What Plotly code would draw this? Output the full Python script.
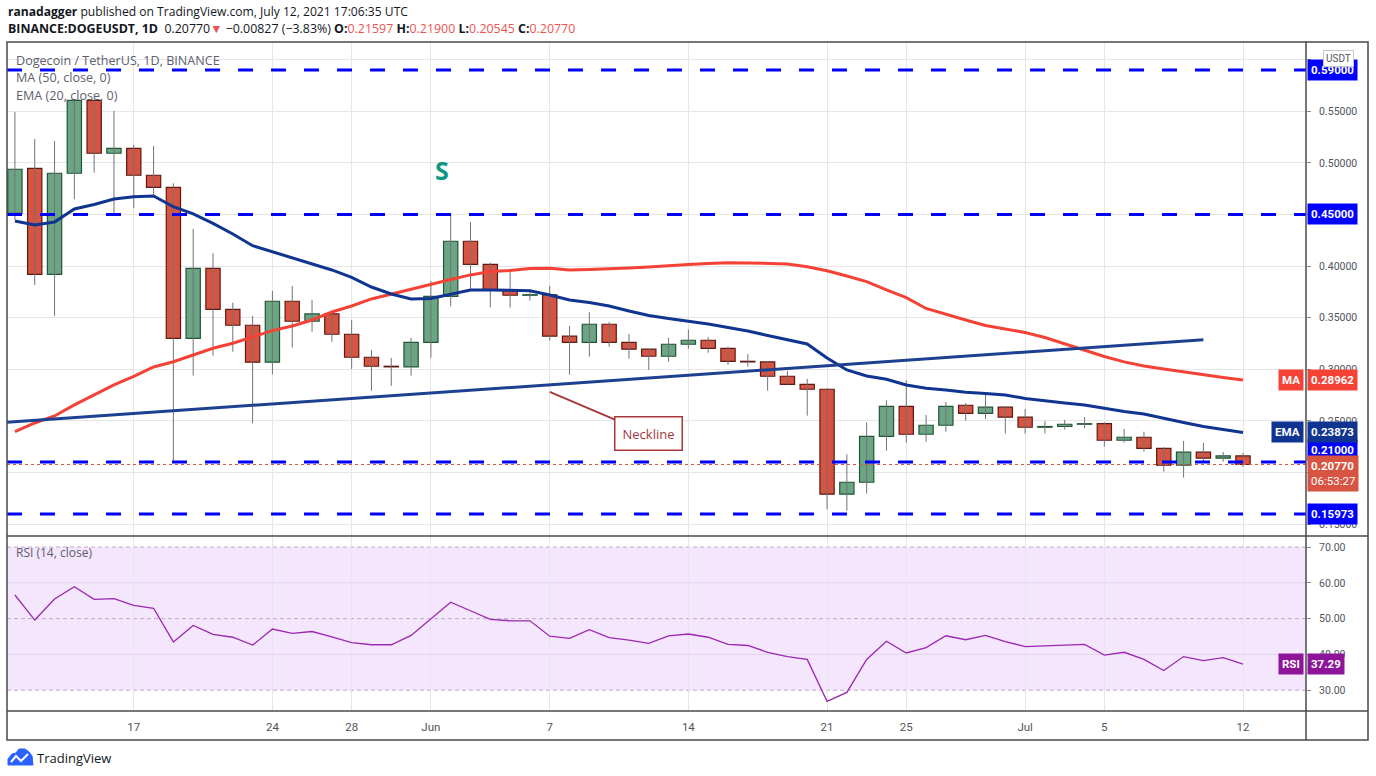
import pandas as pd
import plotly.graph_objects as go
from plotly.subplots import make_subplots


# ── Data ──────────────────────────────────────────────────────────────────────
dates = pd.date_range("2021-05-11", "2021-07-12", freq="D")

opens = [0.4511, 0.4947, 0.3920, 0.4899, 0.5606, 0.5093, 0.5141, 0.4880, 0.4763, 0.3300,
         0.3978, 0.3581, 0.3426, 0.3068, 0.3659, 0.3465, 0.3536, 0.3339, 0.3116, 0.3029,
         0.3023, 0.3261, 0.3707, 0.4240, 0.4017, 0.3768, 0.3717, 0.3722, 0.3320, 0.3261,
         0.3436, 0.3261, 0.3194, 0.3126, 0.3242, 0.3281, 0.3203, 0.3077, 0.3071, 0.2932,
         0.2854, 0.2806, 0.1789, 0.1905, 0.2350, 0.2641, 0.2370, 0.2457, 0.2651, 0.2573,
         0.2632, 0.2535, 0.2438, 0.2445, 0.2467, 0.2472, 0.2312, 0.2341, 0.2233, 0.2070,
         0.2196, 0.2138, 0.21597]
highs = [0.5493, 0.5231, 0.5212, 0.5616, 0.5616, 0.5503, 0.5173, 0.5164, 0.4802, 0.4359,
         0.4124, 0.3645, 0.3516, 0.3759, 0.3807, 0.3671, 0.3545, 0.3478, 0.3187, 0.3109,
         0.3303, 0.3855, 0.4495, 0.4427, 0.4033, 0.3959, 0.3775, 0.3807, 0.3419, 0.3552,
         0.3458, 0.3342, 0.3200, 0.3306, 0.3384, 0.3313, 0.3216, 0.3148, 0.3080, 0.2983,
         0.2906, 0.2816, 0.2176, 0.2486, 0.2699, 0.2893, 0.2557, 0.2683, 0.2673, 0.2767,
         0.2644, 0.2615, 0.2499, 0.2509, 0.2538, 0.2486, 0.2421, 0.2395, 0.2244, 0.2305,
         0.2286, 0.2198, 0.21900]
lows = [0.4447, 0.3817, 0.3519, 0.4647, 0.4905, 0.4495, 0.4560, 0.4689, 0.2104, 0.2938,
        0.3132, 0.3170, 0.2477, 0.2951, 0.3209, 0.3364, 0.3267, 0.3003, 0.2792, 0.2840,
        0.2938, 0.3112, 0.3610, 0.3775, 0.3600, 0.3597, 0.3665, 0.3277, 0.2947, 0.3122,
        0.3219, 0.3103, 0.2993, 0.3074, 0.3199, 0.3160, 0.3041, 0.3025, 0.2793, 0.2850,
        0.2550, 0.1643, 0.1630, 0.1794, 0.2211, 0.2289, 0.2298, 0.2395, 0.2502, 0.2518,
        0.2376, 0.2376, 0.2376, 0.2415, 0.2428, 0.2250, 0.2289, 0.2202, 0.2008, 0.1949,
        0.2092, 0.2104, 0.20545]
closes = [0.4938, 0.3920, 0.4899, 0.5606, 0.5093, 0.5141, 0.4880, 0.4763, 0.3300, 0.3978,
          0.3581, 0.3426, 0.3068, 0.3659, 0.3465, 0.3536, 0.3339, 0.3116, 0.3029, 0.3023,
          0.3261, 0.3707, 0.4240, 0.4017, 0.3768, 0.3717, 0.3722, 0.3320, 0.3261, 0.3436,
          0.3261, 0.3194, 0.3126, 0.3242, 0.3281, 0.3203, 0.3077, 0.3071, 0.2932, 0.2854,
          0.2806, 0.1789, 0.1905, 0.2350, 0.2641, 0.2370, 0.2457, 0.2641, 0.2573, 0.2632,
          0.2535, 0.2438, 0.2445, 0.2467, 0.2472, 0.2312, 0.2341, 0.2233, 0.2070, 0.2196,
          0.2138, 0.21597, 0.20770]

ma50 = [0.2395, 0.2479, 0.2547, 0.2654, 0.2751, 0.2848, 0.2930, 0.3022, 0.3073, 0.3138,
        0.3203, 0.3252, 0.3310, 0.3374, 0.3419, 0.3477, 0.3555, 0.3613, 0.3681, 0.3729,
        0.3778, 0.3826, 0.3870, 0.3914, 0.3947, 0.3957, 0.3977, 0.3979, 0.3962, 0.3967,
        0.3972, 0.3981, 0.3991, 0.4006, 0.4015, 0.4025, 0.4032, 0.4030, 0.4027, 0.4020,
        0.3994, 0.3955, 0.3904, 0.3849, 0.3768, 0.3694, 0.3589, 0.3531, 0.3477, 0.3424,
        0.3390, 0.3356, 0.3308, 0.3245, 0.3187, 0.3124, 0.3071, 0.3032, 0.3003, 0.2974,
        0.2944, 0.2920, 0.28962]
ema20 = [0.4437, 0.4398, 0.4427, 0.4553, 0.4597, 0.4650, 0.4672, 0.4679, 0.4575, 0.4505,
         0.4414, 0.4311, 0.4197, 0.4139, 0.4078, 0.4020, 0.3962, 0.3891, 0.3797, 0.3729,
         0.3681, 0.3686, 0.3729, 0.3768, 0.3768, 0.3768, 0.3761, 0.3720, 0.3671, 0.3647,
         0.3613, 0.3565, 0.3521, 0.3492, 0.3468, 0.3439, 0.3405, 0.3371, 0.3327, 0.3284,
         0.3245, 0.3109, 0.2993, 0.2935, 0.2903, 0.2848, 0.2816, 0.2799, 0.2777, 0.2765,
         0.2751, 0.2717, 0.2693, 0.2673, 0.2654, 0.2620, 0.2591, 0.2567, 0.2523, 0.2484,
         0.2446, 0.2417, 0.23873]
rsi14 = [56.6, 49.6, 55.5, 58.9, 55.4, 55.6, 53.7, 52.9, 43.5, 48.1,
         45.6, 44.8, 42.6, 47.1, 45.9, 46.4, 44.9, 43.3, 42.7, 42.7,
         45.3, 49.9, 54.6, 52.2, 49.8, 49.4, 49.4, 45.1, 44.5, 46.9,
         44.7, 44.0, 43.1, 45.2, 45.7, 44.8, 42.8, 42.5, 40.6, 39.4,
         38.6, 26.9, 29.4, 38.6, 43.7, 40.4, 41.9, 45.2, 44.1, 45.3,
         43.6, 42.2, 42.4, 42.8, 42.8, 39.8, 40.6, 38.6, 35.5, 39.4,
         38.3, 39.1, 37.29]

# drawn levels and trendline
levels = [0.59, 0.45, 0.21, 0.15973]
last_price = 0.2077
neck_dates = ["2021-05-10 14:24", "2021-07-10 00:00"]
neck_prices = [0.2486, 0.3286]
neck_note_date, neck_note_price = "2021-06-07", 0.278
s_date, s_price = "2021-06-01 14:00", 0.493

tick_dates = ["2021-05-17", "2021-05-24", "2021-05-28", "2021-06-01", "2021-06-07", "2021-06-14",
              "2021-06-21", "2021-06-25", "2021-07-01", "2021-07-05", "2021-07-12"]
tick_text = ["17", "24", "28", "Jun", "7", "14", "21", "25", "Jul", "5", "12"]
price_ticks = [0.15, 0.20, 0.25, 0.30, 0.35, 0.40, 0.45, 0.50, 0.55, 0.60]
# 0.20, 0.45 and 0.60 sit fully under the price-tag boxes on the original
price_tick_text = ["0.15000", "", "0.25000", "0.30000", "0.35000", "0.40000",
                   "", "0.50000", "0.55000", ""]
rsi_ticks = [30, 40, 50, 60, 70]

# ── Style ─────────────────────────────────────────────────────────────────────
W, H = 1376, 776
UP, DOWN = "#6ba583", "#d75442"
UP_EDGE, DOWN_EDGE = "#225437", "#5b1a13"
WICK = "#737375"
MA_C, EMA_C, NECK_C = "#f44336", "#0f3591", "#1d4190"
LEVEL_C = "#0000ff"
RSI_C = "#9c27b0"
AX_TXT = "#50535e"
GRID = "#e6e6e6"
FONT = "Open Sans"


def px(x):
    return x / W


def py(y):
    return 1 - y / H


fig = make_subplots(rows=2, cols=1, shared_xaxes=True)

# ── Candles: wicks + bodies ───────────────────────────────────────────────────
wick_x, wick_y = [], []
for d, lo, hi in zip(dates, lows, highs):
    wick_x += [d, d, None]
    wick_y += [lo, hi, None]
fig.add_trace(go.Scatter(x=wick_x, y=wick_y, mode="lines",
                         line=dict(color=WICK, width=1), hoverinfo="skip"), row=1, col=1)

up = [c >= o for o, c in zip(opens, closes)]
for is_up, fill, edge in [(True, UP, UP_EDGE), (False, DOWN, DOWN_EDGE)]:
    idx = [i for i in range(len(dates)) if up[i] == is_up]
    fig.add_trace(go.Bar(
        x=[dates[i] for i in idx],
        base=[min(opens[i], closes[i]) for i in idx],
        y=[abs(closes[i] - opens[i]) for i in idx],
        width=0.72 * 86400000,
        marker=dict(color=fill, line=dict(color=edge, width=1.2)),
        hoverinfo="skip",
    ), row=1, col=1)

# ── Moving averages and neckline ──────────────────────────────────────────────
fig.add_trace(go.Scatter(x=dates, y=ma50, mode="lines",
                         line=dict(color=MA_C, width=3), hoverinfo="skip"), row=1, col=1)
fig.add_trace(go.Scatter(x=dates, y=ema20, mode="lines",
                         line=dict(color=EMA_C, width=3), hoverinfo="skip"), row=1, col=1)
fig.add_trace(go.Scatter(x=neck_dates, y=neck_prices, mode="lines",
                         line=dict(color=NECK_C, width=3), hoverinfo="skip"), row=1, col=1)

# ── RSI ───────────────────────────────────────────────────────────────────────
fig.add_trace(go.Scatter(x=dates, y=rsi14, mode="lines",
                         line=dict(color=RSI_C, width=1.3), hoverinfo="skip"), row=2, col=1)

shapes = []
for lvl in levels:
    shapes.append(dict(type="line", xref="x domain", x0=0, x1=1, yref="y", y0=lvl, y1=lvl,
                       line=dict(color=LEVEL_C, width=3, dash="15px,18px")))
shapes.append(dict(type="line", xref="x domain", x0=0, x1=1, yref="y", y0=last_price, y1=last_price,
                   line=dict(color=DOWN, width=1, dash="dot")))
shapes.append(dict(type="rect", xref="x2 domain", x0=0, x1=1, yref="y2", y0=30, y1=70,
                   fillcolor="#f4e6fd", line=dict(width=0), layer="below"))
for v in rsi_ticks:
    dashed = v in (30, 50, 70)
    shapes.append(dict(type="line", xref="x2 domain", x0=0, x1=1, yref="y2", y0=v, y1=v,
                       layer="below",
                       line=dict(color="#bfaacb" if dashed else "#e2d3ec", width=1,
                                 dash="4px,3px" if dashed else "solid")))

# frame
FRAME = "#4a4a4a"
shapes.append(dict(type="rect", xref="paper", yref="paper", x0=px(7), x1=px(1368), y0=py(740), y1=py(42),
                   line=dict(color=FRAME, width=1.5)))
for yy in (536, 711):
    shapes.append(dict(type="line", xref="paper", yref="paper", x0=px(7), x1=px(1368), y0=py(yy), y1=py(yy),
                       line=dict(color=FRAME, width=1.5)))
shapes.append(dict(type="line", xref="paper", yref="paper", x0=px(1306), x1=px(1306), y0=py(740), y1=py(42),
                   line=dict(color=FRAME, width=1.5)))

# TradingView logo (rough cloud)
cloud = [(8, 765), (8, 759), (12, 754), (16, 753), (19, 749), (25, 749), (29, 752), (32, 756), (33, 765)]
path = "M " + " L ".join(f"{px(a):.5f},{py(b):.5f}" for a, b in cloud) + " Z"
shapes.append(dict(type="path", xref="paper", yref="paper", path=path, fillcolor="#2962ff",
                   line=dict(color="#2962ff", width=1)))
zig = [(11, 762), (16, 756), (21, 761), (28, 754)]
path2 = "M " + " L ".join(f"{px(a):.5f},{py(b):.5f}" for a, b in zig)
shapes.append(dict(type="path", xref="paper", yref="paper", path=path2,
                   line=dict(color="white", width=2)))

# ── Annotations ───────────────────────────────────────────────────────────────
RED_TXT = "#ef5350"
ann = []
ann.append(dict(xref="paper", yref="paper", x=px(6), y=py(12), xanchor="left", yanchor="middle",
                showarrow=False, font=dict(family=FONT, size=12.1, color="#131722"),
                text="<b>ranadagger</b> published on TradingView.com, July 12, 2021 17:06:35 UTC"))
ann.append(dict(xref="paper", yref="paper", x=px(6), y=py(29), xanchor="left", yanchor="middle",
                showarrow=False, font=dict(family=FONT, size=12.4, color="#131722"),
                text=(f"<b>BINANCE:DOGEUSDT, 1D</b>  0.20770<span style='color:{RED_TXT}'>▼</span> "
                      f"−0.00827 (−3.83%) <b>O:</b><span style='color:{RED_TXT}'>0.21597</span> "
                      f"<b>H:</b><span style='color:{RED_TXT}'>0.21900</span> "
                      f"<b>L:</b><span style='color:{RED_TXT}'>0.20545</span> "
                      f"<b>C:</b><span style='color:{RED_TXT}'>0.20770</span>")))
for i, t in enumerate(["Dogecoin / TetherUS, 1D, BINANCE", "MA (50, close, 0)", "EMA (20, close, 0)"]):
    ann.append(dict(xref="paper", yref="paper", x=px(14), y=py(61 + 17 * i), xanchor="left",
                    yanchor="middle", showarrow=False, text=t,
                    font=dict(family=FONT, size=12.6, color="#5d606b")))
ann.append(dict(xref="paper", yref="paper", x=px(14), y=py(552), xanchor="left", yanchor="middle",
                showarrow=False, text="RSI (14, close)", font=dict(family=FONT, size=12, color="#5d606b")))
ann.append(dict(xref="paper", yref="paper", x=px(35), y=py(758), xanchor="left", yanchor="middle",
                showarrow=False, text="TradingView", font=dict(family=FONT, size=13, color="#131722")))

# "S" marker and neckline callout
ann.append(dict(x=s_date, y=s_price, xref="x", yref="y", text="<b>S</b>", showarrow=False,
                font=dict(family=FONT, size=25, color="#0f9684")))
ann.append(dict(x=neck_note_date, y=neck_note_price, xref="x", yref="y", text="Neckline",
                showarrow=True, ax=99, ay=42, arrowcolor="#a8383a", arrowwidth=2, arrowhead=0,
                bordercolor="#a8383a", borderwidth=1.5, borderpad=7, bgcolor="white",
                font=dict(family=FONT, size=13, color="#a8383a")))

# right-axis price labels
LBL = dict(family="Roboto", size=11.5, color="white")
for lvl in levels:
    ann.append(dict(xref="paper", yref="y", x=px(1307), y=lvl, xanchor="left", yanchor="middle",
                    showarrow=False, text=f"<b>{lvl:.5f}</b>", bgcolor=LEVEL_C, borderpad=3,
                    yshift=12 if lvl == 0.21 else 0, font=LBL))
for name, val, col in [("MA", ma50[-1], MA_C), ("EMA", ema20[-1], EMA_C)]:
    ann.append(dict(xref="paper", yref="y", x=px(1307), y=val, xanchor="left", yanchor="middle",
                    showarrow=False, text=f"<b>{val:.5f}</b>", bgcolor=col, borderpad=3, font=LBL))
    ann.append(dict(xref="paper", yref="y", x=px(1304), y=val, xanchor="right", yanchor="middle",
                    showarrow=False, text=f"<b>{name}</b>", bgcolor=col, borderpad=3, font=LBL))
ann.append(dict(xref="paper", yref="y", x=px(1307), y=closes[-1], xanchor="left", yanchor="top",
                yshift=9, showarrow=False, text=f"<b>{closes[-1]:.5f}</b><br>06:53:27",
                bgcolor=DOWN, borderpad=3, font=LBL, align="left"))
ann.append(dict(xref="paper", yref="paper", x=px(1338), y=py(59), xanchor="center", yanchor="middle",
                showarrow=False, text="USDT", bgcolor="white", bordercolor="#c8c8c8", borderwidth=1,
                borderpad=2, font=dict(family="Roboto", size=10, color="#50535e")))
RSI_LBL = "#8e1599"
ann.append(dict(xref="paper", yref="y2", x=px(1307), y=rsi14[-1], xanchor="left", yanchor="middle",
                showarrow=False, text=f"<b>{rsi14[-1]:.2f}</b>", bgcolor=RSI_LBL, borderpad=3, font=LBL))
ann.append(dict(xref="paper", yref="y2", x=px(1304), y=rsi14[-1], xanchor="right", yanchor="middle",
                showarrow=False, text="<b>RSI</b>", bgcolor=RSI_LBL, borderpad=3, font=LBL))

# ── Layout ────────────────────────────────────────────────────────────────────
x_range = ["2021-05-10 14:24", "2021-07-15 04:20"]
tickfont = dict(family="Roboto", size=11.5, color=AX_TXT)
yfont = dict(family="Roboto", size=10.5, color=AX_TXT)
fig.update_layout(
    width=W, height=H, autosize=False,
    margin=dict(l=0, r=0, t=0, b=0),
    paper_bgcolor="white", plot_bgcolor="white",
    showlegend=False, barmode="overlay",
    shapes=shapes, annotations=ann,
    xaxis=dict(domain=[px(7), px(1306)], range=x_range, type="date",
               tickvals=tick_dates, showticklabels=False, showgrid=True, gridcolor=GRID,
               zeroline=False, showline=False, ticks=""),
    xaxis2=dict(domain=[px(7), px(1306)], range=x_range, type="date",
                tickvals=tick_dates, ticktext=tick_text, showgrid=True, gridcolor=GRID,
                zeroline=False, showline=False, ticks="outside", ticklen=5,
                tickcolor="rgba(0,0,0,0)", tickfont=tickfont),
    yaxis=dict(domain=[py(536), py(42)], range=[0.1384, 0.6171], side="right",
               tickvals=price_ticks, ticktext=price_tick_text, showgrid=True, gridcolor=GRID,
               zeroline=False, ticks="outside", ticklen=4, tickcolor="#888", tickfont=yfont,
               ticklabelstandoff=6),
    yaxis2=dict(domain=[py(711), py(537)], range=[24.2, 72.8], side="right",
                tickvals=rsi_ticks, tickformat=".2f", showgrid=False,
                zeroline=False, ticks="outside", ticklen=4, tickcolor="#888", tickfont=yfont,
                ticklabelstandoff=6),
)

# the page's default 8px body margin would shift the whole chart
fig.write_html("out.html", config={"displayModeBar": False},
               post_script="document.body.style.margin='0px';")
